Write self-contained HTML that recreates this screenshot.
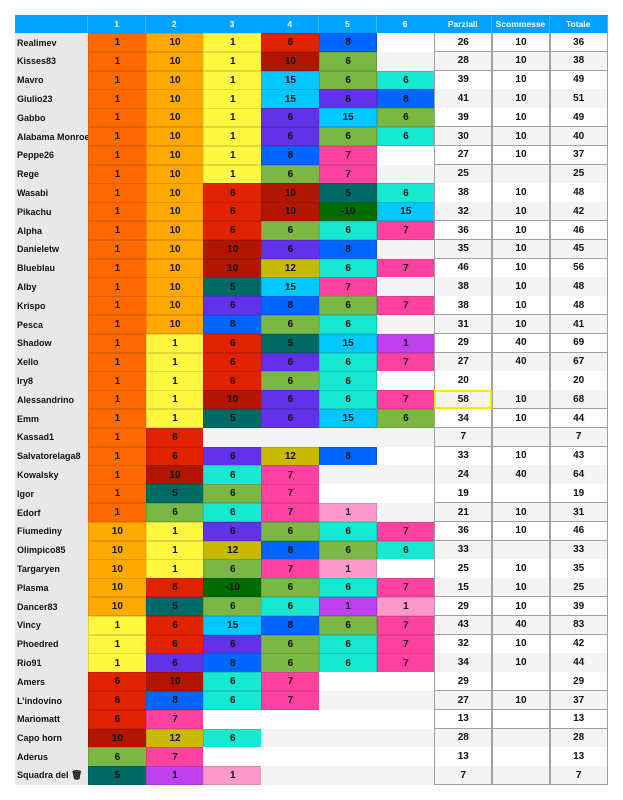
<!DOCTYPE html>
<html><head><meta charset="utf-8">
<style>
body{margin:0;background:#fff;width:623px;height:800px;overflow:hidden;font-family:"Liberation Sans",Arial,sans-serif;}
#t{position:absolute;left:0;top:0;width:623px;height:800px;}
.c{position:absolute;box-sizing:border-box;display:flex;align-items:center;justify-content:center;font-weight:bold;font-size:10px;color:#111;white-space:nowrap;overflow:hidden;}
.n{justify-content:flex-start;padding-left:2px;background:#e8e8e8;font-size:9px;}
.h{color:#fff;font-size:8.5px;background:#00a2ff;border-right:1px solid #33b5ff;}
.r{border:1px solid #a0a0a0;border-top:none;}
</style></head><body>
<div id="t"></div>
<script>
const names=["Realimev","Kisses83","Mavro","Giulio23","Gabbo","Alabama Monroe","Peppe26","Rege","Wasabi","Pikachu","Alpha","Danieletw","Blueblau","Alby","Krispo","Pesca","Shadow","Xello","Iry8","Alessandrino","Emm","Kassad1","Salvatorelaga8","Kowalsky","Igor","Edorf","Fiumediny","Olimpico85","Targaryen","Plasma","Dancer83","Vincy","Phoedred","Rio91","Amers","L’indovino","Mariomatt","Capo horn","Aderus","Squadra del 🗑"];
const rounds=["1O 10A 1Y 6R 8B","1O 10A 1Y 10D 6G","1O 10A 1Y 15S 6G 6T","1O 10A 1Y 15S 6P 8B","1O 10A 1Y 6P 15S 6G","1O 10A 1Y 6P 6G 6T","1O 10A 1Y 8B 7K","1O 10A 1Y 6G 7K","1O 10A 6R 10D 5E 6T","1O 10A 6R 10D -10F 15S","1O 10A 6R 6G 6T 7K","1O 10A 10D 6P 8B","1O 10A 10D 12L 6T 7K","1O 10A 5E 15S 7K","1O 10A 6P 8B 6G 7K","1O 10A 8B 6G 6T","1O 1Y 6R 5E 15S 1M","1O 1Y 6R 6P 6T 7K","1O 1Y 6R 6G 6T","1O 1Y 10D 6P 6T 7K","1O 1Y 5E 6P 15S 6G","1O 6R","1O 6R 6P 12L 8B","1O 10D 6T 7K","1O 5E 6G 7K","1O 6G 6T 7K 1Q","10A 1Y 6P 6G 6T 7K","10A 1Y 12L 8B 6G 6T","10A 1Y 6G 7K 1Q","10A 6R -10F 6G 6T 7K","10A 5E 6G 6T 1M 1Q","1Y 6R 15S 8B 6G 7K","1Y 6R 6P 6G 6T 7K","1Y 6P 8B 6G 6T 7K","6R 10D 6T 7K","6R 8B 6T 7K","6R 7K","10D 12L 6T","6G 7K","5E 1M 1Q"];
const parziali=[26,28,39,41,39,30,27,25,38,32,36,35,46,38,38,31,29,27,20,58,34,7,33,24,19,21,36,33,25,15,29,43,32,34,29,27,13,28,13,7];
const scommesse=[10,10,10,10,10,10,10,"",10,10,10,10,10,10,10,10,40,40,"",10,10,"",10,40,"",10,10,"",10,10,10,40,10,10,"",10,"","","",""];
const totale=[36,38,49,51,49,40,37,25,48,42,46,45,56,48,48,41,69,67,20,68,44,7,43,64,19,31,46,33,35,25,39,83,42,44,29,37,13,28,13,7];
const headers=["1","2","3","4","5","6","Parziali","Scommesse","Totale"];
const colors={O:"#ff6a00",A:"#ffa800",Y:"#fff740",R:"#e02200",D:"#b01600",S:"#00c8ff",B:"#0066ff",G:"#7ab843",T:"#16e8d2",P:"#6232e8",K:"#ff42a0",E:"#006b66",F:"#006c00",L:"#c6bb00",M:"#c040f0",Q:"#ff99cc"};
const X0=15,XN=88,CW=57.7,HY=15,HH=18,RY=33,RH=18.8;
const t=document.getElementById('t');
function cell(x,y,w,h,txt,cls,bg){const d=document.createElement('div');d.className='c '+cls;d.style.left=x+'px';d.style.top=y+'px';d.style.width=w+'px';d.style.height=h+'px';if(bg)d.style.background=bg;d.textContent=txt;t.appendChild(d);return d;}
let hd=cell(X0,HY,XN-X0,HH,"","h");


headers.forEach((h,i)=>{const e=cell(XN+i*CW,HY,CW+0.5,HH,h,"h");

});
names.forEach((nm,r)=>{
  const y=RY+r*RH, stripe=r%2?"#f4f4f4":"#ffffff";
  const n=cell(X0,y,XN-X0,RH+0.5,nm,"n");
  
  
  const rs=rounds[r].split(" ");
  for(let i=0;i<6;i++){
    let txt="",bg=stripe,brd="none";
    if(i<rs.length){const s=rs[i];txt=s.slice(0,-1);bg=colors[s.slice(-1)];brd="1px solid rgba(0,0,0,0.12)";}
    const e=cell(XN+i*CW,y,CW+1,RH+0.5,txt,"",bg);
    e.style.border=brd;
    
    
  }
  [parziali[r],scommesse[r],totale[r]].forEach((v,k)=>{
    const e=cell(XN+(6+k)*CW,y,CW+0.5,RH+0.5,String(v),"r",stripe);
    if(r===19&&k===0){e.style.border="2px solid #ffe800";}
    
    
  });
});
</script>
</body></html>
